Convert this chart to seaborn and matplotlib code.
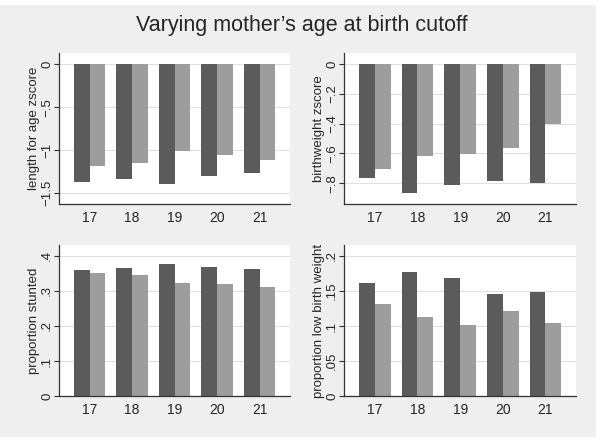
import numpy as np
import pandas as pd
import seaborn as sns
import matplotlib.pyplot as plt
from matplotlib.patches import Rectangle

sns.set_style("white")
plt.rcParams['font.family'] = ['Liberation Sans', 'DejaVu Sans']

ages = ['17', '18', '19', '20', '21']

# dark = first series, light = second series
lfa_dark = [-1.372, -1.338, -1.388, -1.303, -1.261]
lfa_light = [-1.183, -1.149, -1.009, -1.060, -1.110]
bw_dark = [-0.766, -0.865, -0.809, -0.787, -0.800]
bw_light = [-0.701, -0.619, -0.603, -0.565, -0.404]
stunt_dark = [0.359, 0.365, 0.376, 0.368, 0.363]
stunt_light = [0.352, 0.346, 0.323, 0.319, 0.312]
lbw_dark = [0.161, 0.177, 0.168, 0.146, 0.148]
lbw_light = [0.131, 0.113, 0.101, 0.121, 0.104]

ylabels = ['length for age zscore', 'birthweight zscore',
           'proportion stunted', 'proportion low birth weight']
yticks = [[0, -0.5, -1, -1.5], [0, -0.2, -0.4, -0.6, -0.8],
          [0, 0.1, 0.2, 0.3, 0.4], [0, 0.05, 0.1, 0.15, 0.2]]
ytlabels = [['0', '\u2212.5', '\u22121', '\u22121.5'],
            ['0', '\u2212.2', '\u2212.4', '\u2212.6', '\u2212.8'],
            ['0', '.1', '.2', '.3', '.4'],
            ['0', '.05', '.1', '.15', '.2']]
ylims = [(-1.624, 0.128), (-0.939, 0.074), (0, 0.431), (0, 0.2157)]
series = [(lfa_dark, lfa_light), (bw_dark, bw_light),
          (stunt_dark, stunt_light), (lbw_dark, lbw_light)]

dark = '#5b5b5b'
light = '#9d9d9d'
bg = '#efefef'

W, H = 603, 442
fig = plt.figure(figsize=(W / 100, H / 100), dpi=100, facecolor='white')
fig.patches.append(Rectangle((0, 5 / H), 596 / W, 432 / H, transform=fig.transFigure,
                             facecolor=bg, edgecolor='none', zorder=-10))

lefts = [59.3 / W, 344.3 / W]
widths = [230.7 / W, 231.7 / W]
bottoms = [1 - 204 / H, 1 - 396 / H]
h = 151 / H

for i in range(4):
    r, c = divmod(i, 2)
    ax = fig.add_axes([lefts[c], bottoms[r], widths[c], h])
    d, l = series[i]
    df = pd.DataFrame({'age': ages * 2, 'val': d + l,
                       'grp': ['a'] * 5 + ['b'] * 5})
    ax.set_axisbelow(True)
    ax.yaxis.grid(True, color='#e0e0e0', linewidth=0.8)
    sns.barplot(data=df, x='age', y='val', hue='grp', palette=[dark, light],
                width=0.74, saturation=1, legend=False, ax=ax, linewidth=0)
    ax.set_xlim(-0.715, 4.715)
    ax.set_ylim(*ylims[i])
    ax.set_yticks(yticks[i])
    ax.set_yticklabels(ytlabels[i], rotation=90, va='center', fontsize=9.5)
    ax.tick_params(axis='y', length=3.5, width=0.8, color='#333333', pad=1, left=True)
    ax.tick_params(axis='x', length=0, labelsize=10, pad=5)
    ax.set_xlabel('')
    ax.set_ylabel(ylabels[i], fontsize=9.5, labelpad=1)
    for s in ['top', 'right']:
        ax.spines[s].set_visible(False)
    for s in ['left', 'bottom']:
        ax.spines[s].set_color('#333333')
        ax.spines[s].set_linewidth(0.9)
    ax.set_facecolor('white')

fig.text(0.5, 1 - 25 / H, 'Varying mother\u2019s age at birth cutoff',
         ha='center', va='center', fontsize=15.5)

fig.savefig('out.png', dpi=100, facecolor='white')
